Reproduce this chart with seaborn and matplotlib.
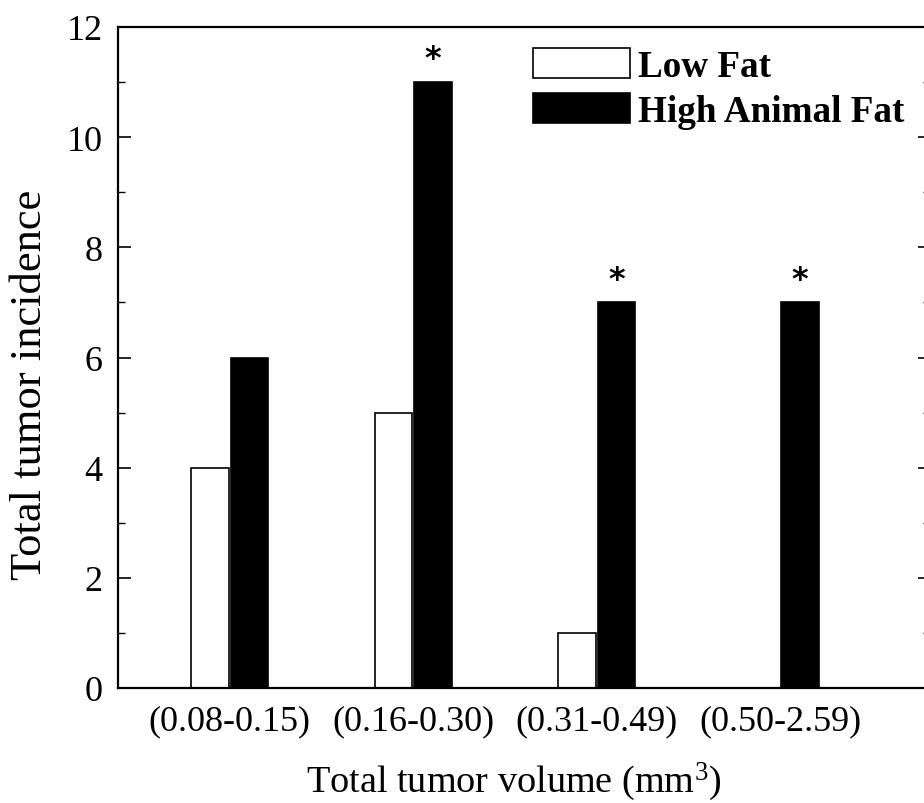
import pandas as pd
import numpy as np
import matplotlib
matplotlib.use("Agg")
import matplotlib.pyplot as plt
import seaborn as sns
from matplotlib.ticker import MultipleLocator

# --------------------------------------------------
# DATA
# --------------------------------------------------
categories = ['(0.08-0.15)', '(0.16-0.30)', '(0.31-0.49)', '(0.50-2.59)']
low_fat = [4, 5, 1, 0]
high_animal_fat = [6, 11, 7, 7]
significant = [False, True, True, True]   # asterisk over the high fat bar
groups = ['Low Fat', 'High Animal Fat']

df = pd.DataFrame({
    'volume': categories * 2,
    'incidence': low_fat + high_animal_fat,
    'diet': [groups[0]] * len(categories) + [groups[1]] * len(categories),
})

# --------------------------------------------------
# THEME
# --------------------------------------------------
sns.set_theme(style="ticks")
plt.rcParams['font.family'] = ['Liberation Serif', 'DejaVu Serif']
plt.rcParams['mathtext.fontset'] = 'custom'
plt.rcParams['mathtext.rm'] = 'Liberation Serif'
plt.rcParams['text.color'] = 'black'
plt.rcParams['axes.labelcolor'] = 'black'
plt.rcParams['xtick.color'] = 'black'
plt.rcParams['ytick.color'] = 'black'

fig = plt.figure(figsize=(9.24, 8.04), dpi=100)
ax = fig.add_axes([118 / 924, 115 / 804, 812 / 924, 661 / 804])

sns.barplot(data=df, x='volume', y='incidence', hue='diet', hue_order=groups,
            palette={'Low Fat': 'white', 'High Animal Fat': 'black'},
            width=0.43, gap=0.05, edgecolor='black', linewidth=1.2,
            ax=ax, legend=True)

ax.set_xlim(-0.608, 3.817)
ax.set_ylim(0, 12)
ax.yaxis.set_major_locator(MultipleLocator(2))
ax.yaxis.set_minor_locator(MultipleLocator(1))

for s in ax.spines.values():
    s.set_linewidth(1.6)
    s.set_color('black')

ax.tick_params(axis='y', which='major', direction='in', length=9, width=1.2,
               labelsize=26, pad=11, right=True, colors='black')
ax.tick_params(axis='y', which='minor', direction='in', length=5, width=1.0,
               right=True, colors='black')
ax.tick_params(axis='x', length=0, labelsize=26, pad=12, colors='black')

ax.set_ylabel('Total tumor incidence', fontsize=32)
ax.set_xlabel('Total tumor volume (mm$\\mathregular{^3}$)', fontsize=27.5)
ax.yaxis.set_label_coords(-0.108, 0.46)
ax.xaxis.set_label_coords(0.487, -0.14)
ax.xaxis.label.set_va('center')
ax.yaxis.label.set_va('center')

# asterisks over significant high fat bars
for bar, val, sig in zip(ax.containers[1], high_animal_fat, significant):
    if sig:
        ax.text(bar.get_x() + bar.get_width() / 2, val + 0.42, '*',
                ha='center', va='center', fontsize=23, fontweight='bold',
                family='DejaVu Sans', color='black')

leg = ax.legend(loc='upper left', bbox_to_anchor=(533 / 924, 1 - 49 / 804),
                bbox_transform=fig.transFigure, frameon=False,
                prop={'family': 'Liberation Serif', 'weight': 'bold', 'size': 26.7},
                handlelength=2.62, handleheight=0.86, handletextpad=0.22,
                labelspacing=0.25, borderpad=0, borderaxespad=0)
for t in leg.get_texts():
    t.set_color('black')

fig.savefig('out.png', dpi=100, facecolor='white')
